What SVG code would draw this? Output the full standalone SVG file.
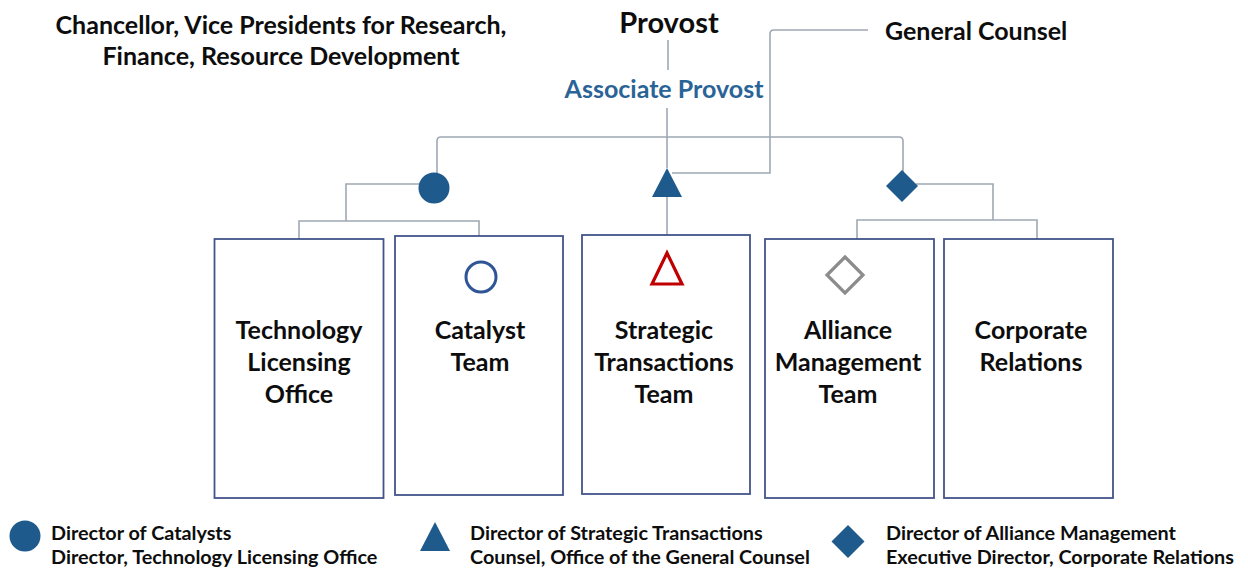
<svg xmlns="http://www.w3.org/2000/svg" width="1248" height="569" viewBox="0 0 1248 569">
<style>
.t{font-family:Lato,"Open Sans","Liberation Sans",sans-serif;font-weight:bold;fill:#0d0d0d}
.hd{font-size:25px;text-anchor:middle}
.bx{font-size:25px;text-anchor:middle}
.lg{font-size:19.8px}
.box{fill:#fff;stroke:#42548a;stroke-width:1.8}
.con{fill:none;stroke:#9ea8b3;stroke-width:1.6}
.blue{fill:#1f5a8c}
</style>
<rect width="1248" height="569" fill="#fff"/>
<g id="connectors">
<path class="con" d="M668 40V70"/>
<path class="con" d="M667 108V168M667 197V235"/>
<path class="con" d="M437 173V141Q437 137 441 137H899Q903 137 903 141V172"/>
<path class="con" d="M868 30H774Q770 30 770 34V173H672"/>
<path class="con" d="M420 184H346V221M299 239V221H479V236"/>
<path class="con" d="M916 184H993V220M857 239V220H1037V239"/>
</g>
<g id="top-left">
<text class="t hd" x="281" y="34">Chancellor, Vice Presidents for Research,</text>
<text class="t hd" x="281" y="65">Finance, Resource Development</text>
</g>
<g id="provost"><text class="t hd" x="669" y="33" style="font-size:29px">Provost</text></g>
<g id="general-counsel"><text class="t" x="885" y="40" style="font-size:25px">General Counsel</text></g>
<g id="associate-provost"><text class="t hd" x="664" y="98" style="fill:#2a6496">Associate Provost</text></g>
<g id="dir-circle"><circle class="blue" cx="434" cy="188" r="15.5"/></g>
<g id="dir-triangle"><polygon class="blue" points="667,168 682,197 652,197"/></g>
<g id="dir-diamond"><polygon class="blue" points="902,170 918,186 902,202 886,186"/></g>
<g id="tlo">
<rect class="box" x="214.5" y="239" width="169" height="259"/>
<text class="t bx" x="299" y="339">Technology</text>
<text class="t bx" x="299" y="371">Licensing</text>
<text class="t bx" x="299" y="403">Office</text>
</g>
<g id="catalyst">
<rect class="box" x="395" y="236" width="168" height="259"/>
<circle cx="481" cy="277" r="15" fill="none" stroke="#2f5597" stroke-width="3"/>
<text class="t bx" x="480" y="339">Catalyst</text>
<text class="t bx" x="480" y="371">Team</text>
</g>
<g id="strategic">
<rect class="box" x="582" y="235" width="168" height="259"/>
<polygon points="667,253 682,284 652,284" fill="none" stroke="#c00000" stroke-width="3.2"/>
<text class="t bx" x="664" y="339">Strategic</text>
<text class="t bx" x="664" y="371">Transactions</text>
<text class="t bx" x="664" y="403">Team</text>
</g>
<g id="alliance">
<rect class="box" x="765" y="239" width="169" height="259"/>
<polygon points="845,257 863,275 845,293 827,275" fill="none" stroke="#8c8c8c" stroke-width="3.2"/>
<text class="t bx" x="848" y="339">Alliance</text>
<text class="t bx" x="848" y="371">Management</text>
<text class="t bx" x="848" y="403">Team</text>
</g>
<g id="corporate">
<rect class="box" x="944" y="239" width="169" height="259"/>
<text class="t bx" x="1031" y="339">Corporate</text>
<text class="t bx" x="1031" y="371">Relations</text>
</g>
<g id="legend-circle">
<circle class="blue" cx="25" cy="536" r="15.5"/>
<text class="t lg" x="51" y="540">Director of Catalysts</text>
<text class="t lg" x="51" y="564">Director, Technology Licensing Office</text>
</g>
<g id="legend-triangle">
<polygon class="blue" points="435,522 450,551 420,551"/>
<text class="t lg" x="470" y="540">Director of Strategic Transactions</text>
<text class="t lg" x="470" y="564">Counsel, Office of the General Counsel</text>
</g>
<g id="legend-diamond">
<polygon class="blue" points="848,525 864.5,541.5 848,558 831.5,541.5"/>
<text class="t lg" x="886" y="540">Director of Alliance Management</text>
<text class="t lg" x="886" y="564">Executive Director, Corporate Relations</text>
</g>
</svg>
